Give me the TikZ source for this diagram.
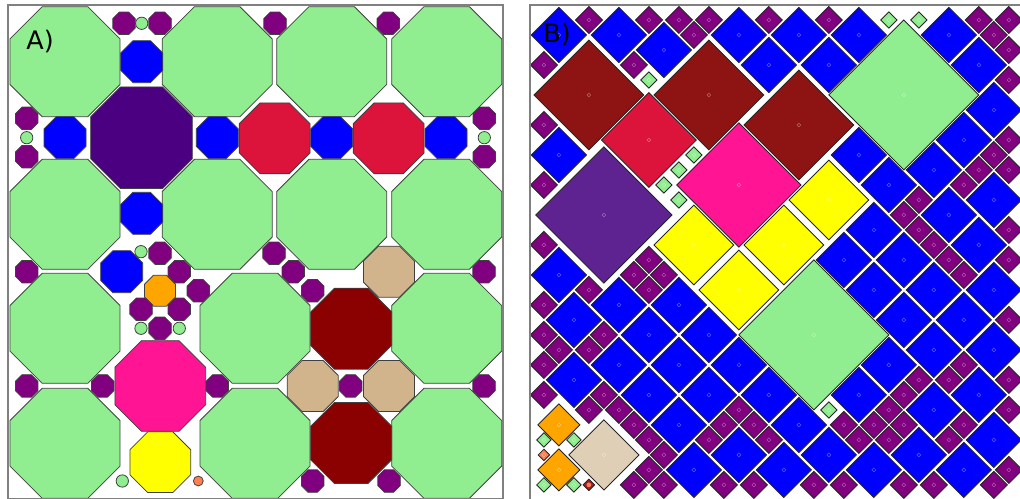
\documentclass[tikz,border=0pt]{standalone}
\usepackage{fontspec}
\newfontfamily\labelfont{DejaVu Sans}

\definecolor{lgreen}{HTML}{90EE90}
\definecolor{indigo}{HTML}{4B0082}
\definecolor{crimson}{HTML}{DC143C}
\definecolor{pur}{HTML}{800080}
\definecolor{orng}{HTML}{FFA500}
\definecolor{dpink}{HTML}{FF1493}
\definecolor{yel}{HTML}{FFFF00}
\definecolor{tanA}{HTML}{D2B48C}
\definecolor{dred}{HTML}{8B0000}
\definecolor{coral}{HTML}{FF7F50}
\definecolor{dredB}{HTML}{8E1414}
\definecolor{indB}{HTML}{5E2391}
\definecolor{tanB}{HTML}{DFCFB6}
\definecolor{tinyred}{HTML}{A52020}

% octagon: centre x, centre y, flat-to-flat width, fill
\newcommand\oct[4]{%
  \pgfmathsetmacro\octr{0.5412*#3}%
  \draw[octedge, fill=#4, shift={(#1,#2)}] (22.5:\octr) -- (67.5:\octr) -- (112.5:\octr)
    -- (157.5:\octr) -- (202.5:\octr) -- (247.5:\octr) -- (292.5:\octr) -- (337.5:\octr) -- cycle;}
% diamond tile on the turned grid: centre u, centre v, half size, fill
\newcommand\dm[4]{%
  \draw[tile, fill=#4] ({#1-#3},{#2-#3}) -- ({#1+#3},{#2-#3}) -- ({#1+#3},{#2+#3}) -- ({#1-#3},{#2+#3}) -- cycle;
  \draw[ctr] ({#1},{#2}) circle[radius=1.1pt];}

\begin{document}
\begin{tikzpicture}[x=0.02cm, y=-0.02cm,
  octedge/.style={draw=black!75, line width=0.45pt},
  tile/.style={draw=black!85, line width=0.5pt},
  ctr/.style={draw=white, opacity=0.35, line width=0.3pt},
  panel/.style={draw=black!50, line width=0.9pt},
  lab/.style={font=\labelfont\fontsize{14.5}{16}\selectfont, anchor=base west, inner sep=0pt}
]
\useasboundingbox[fill=white] (0,0) rectangle (1020,499);

% A) octagons
\foreach \x/\y in {65/61.7, 217.2/61.7, 331.7/61.7, 446.7/61.7,
                   65/214.3, 217.2/214.3, 331.7/214.3, 446.7/214.3,
                   65/328.3, 255/328.3, 446.7/328.3, 65/443.3, 255/443.3, 446.7/443.3}
  \oct{\x}{\y}{110}{lgreen};
\oct{141.5}{137.8}{101.6}{indigo}
\foreach \x/\y in {141.7/61.7, 65/137.7, 217.3/137.7, 331.7/137.7, 446/137.7, 141.7/213.3, 121.7/271.7}
  \oct{\x}{\y}{42}{blue};
\foreach \x in {274.7, 388.7} \oct{\x}{138.3}{70.7}{crimson};
\oct{160}{290.7}{31}{orng}
\oct{160.3}{386}{90.7}{dpink}
\oct{160.3}{462.2}{60.7}{yel}
\foreach \x/\y in {389/271.7, 312.7/386, 389/386} \oct{\x}{\y}{51}{tanA};
\foreach \y in {328.7, 443} \oct{351.2}{\y}{81}{dred};
\foreach \x/\y in {124/23.3, 160/23.3, 275/23.3, 388.3/23.3, 26.7/118.3, 26.7/156.7,
                   484.3/118.3, 484.3/156.7, 160/253.3, 26.7/271.7, 179.3/271.7, 198.3/290.7,
                   141/309.3, 179.3/309.3, 160/328.3, 26.7/386, 102.7/386, 217.3/386,
                   274/253.3, 293.3/271.7, 312.7/290.7, 484/271.7, 350.7/386, 484/386,
                   312.7/481, 389/481}
  \oct{\x}{\y}{22.5}{pur};
\foreach \x/\y in {141.7/23.3, 26.7/137.7, 484.3/137.7, 141/251.7, 141/328.3, 179.3/328.3, 122.3/481}
  \draw[octedge, fill=lgreen] (\x,\y) circle[radius=3.5pt];
\draw[octedge, fill=coral] (198.3,481) circle[radius=2.8pt];

% B) turned squares
\begin{scope}
\clip (530,5) rectangle (1020,499);
\begin{scope}[shift={(19,5)}, x={(0.3cm,0.3cm)}, y={(0.3cm,-0.3cm)}]
\foreach \u/\v in {17/19, 19/21, 20/23, 13/23, 23/25, 23/27, 25/27, 27/29, 25/29, 30/32,
                   30/34, 29/36, 27/36, 25/36, 23/33, 23/35, 21/36, 19/36, 24/38, 26/39,
                   9/27, 8/29, 10/30, 12/32, 10/32, 12/34, 8/32, 10/34, 12/36, 6/31,
                   8/34, 10/36, 8/36, 7/38, 9/39, 12/38, 12/40, 10/41, 12/42, 19/38,
                   21/38, 19/40, 21/40, 24/40, 19/42, 21/42, 23/42, 21/44, 17/41, 15/41,
                   17/44, 19/45, 18/47, 15/45, 13/44, 16/47}
  \dm{\u}{\v}{.92}{blue};
\foreach \u/\v in {18/19, 20/21, 21/22, 22/23, 21/23, 15/19, 18/22, 13/21, 11/23, 9/25,
                   24/25, 26/27, 31/32, 32/33, 31/33, 31/34, 30/35, 28/37, 27/37, 27/38,
                   26/37, 25/37, 23/36, 22/36, 22/37, 22/38, 22/39, 22/40, 25/40, 24/41,
                   22/43, 19/43, 18/43, 17/42, 16/42, 15/42, 14/42, 13/42, 13/41, 15/43,
                   14/43, 17/45, 16/45, 20/45, 19/46, 13/45, 14/46, 16/48, 17/48, 11/29,
                   12/29, 11/30, 12/30, 9/28, 7/27, 8/30, 7/30, 6/28, 6/29, 5/29,
                   4/30, 6/32, 5/32, 6/33, 6/34, 6/35, 6/36, 5/36, 4/36, 5/37,
                   7/39, 8/40, 8/37, 9/37, 10/37, 10/38, 10/39, 10/42, 11/43}
  \dm{\u+.5}{\v+.5}{.45}{pur};
\foreach \u/\v in {18/23, 15/27, 16/27, 17/27, 15/28, 28/29, 29/30, 13/40}
  \dm{\u+.5}{\v+.5}{.27}{lgreen};
\foreach \u/\v in {16/22, 20/26, 22/30} \dm{\u}{\v}{1.83}{dredB};
\dm{16.5}{25.5}{1.58}{crimson}
\dm{12.5}{26.5}{2.27}{indB}
\dm{18}{30}{2.07}{dpink}
\foreach \u/\v in {14.5/30.5, 14.5/33.5, 17.5/33.5, 20.5/33.5} \dm{\u}{\v}{1.33}{yel};
\foreach \u/\v in {26.5/32.5, 15.5/37.5} \dm{\u}{\v}{2.5}{lgreen};
\dm{4}{32}{.7}{orng}
\dm{2.5}{33.5}{.7}{orng}
\dm{4.5}{34.5}{1.17}{tanB}
\foreach \u/\v in {3/32, 4/33, 1.5/33.5, 2.5/34.5} \dm{\u}{\v}{.24}{lgreen};
\dm{2.5}{32.5}{.19}{coral}
\dm{3}{35}{.19}{tinyred}
\fill[coral] (3,35) circle[radius=1.3pt];
\end{scope}
\end{scope}

\draw[panel] (8,5) rectangle (503,498.5);
\draw[panel] (530,499) -- (530,5) -- (1020,5);
\node[lab] (labA) at (26,50) {A)};
\node[lab] (labB) at (543,43) {B)};
\end{tikzpicture}
\end{document}
